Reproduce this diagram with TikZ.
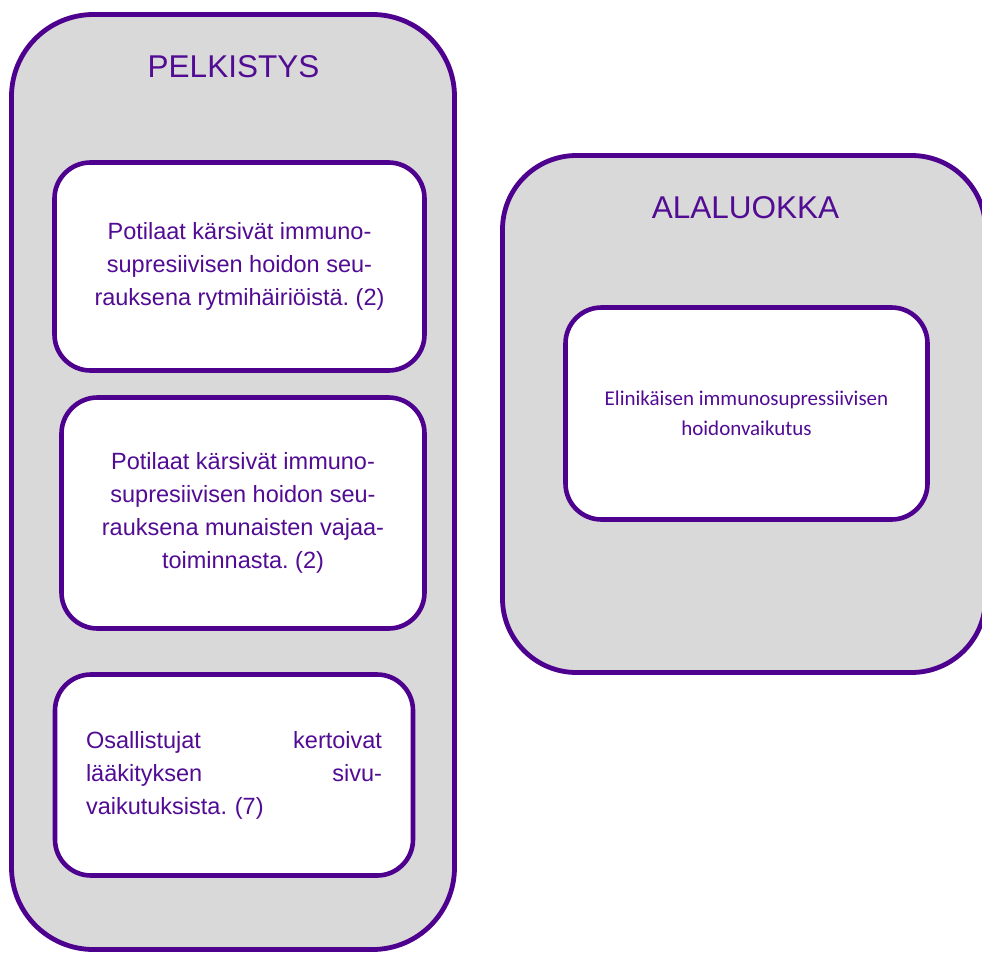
\documentclass[tikz,border=0pt]{standalone}
\usepackage{fontspec}
\setmainfont{Liberation Sans}
\newfontfamily\calibrifont{Carlito}
\definecolor{luokka}{RGB}{78,0,142}
\definecolor{luokkatext}{RGB}{82,12,148}
\definecolor{pohja}{RGB}{217,217,217}
\frenchspacing

\begin{document}
\begin{tikzpicture}[x=1pt,y=-1pt,
    outerbox/.style={draw=luokka,line width=4.8pt,fill=pohja,rectangle,inner sep=0pt},
    innerbox/.style={draw=luokka,line width=4.6pt,fill=white,rectangle,rounded corners=36pt,
      inner sep=0pt,text=luokkatext,align=center,font=\fontsize{23.5}{33}\selectfont},
    title/.style={text=luokkatext,anchor=base,inner sep=0pt,font=\fontsize{31.5}{36}\selectfont}]
    \useasboundingbox (0,0) rectangle (982,953);
    \clip (0,0) rectangle (982,953);
    % containers
    \node[outerbox,rounded corners=82pt,minimum width=443pt,minimum height=935pt] (pelk) at (233,482) {};
    \node[outerbox,rounded corners=74pt,minimum width=483pt,minimum height=517pt] (ala) at (744,414) {};
    \node[title] (pelkt) at (233.5,77) {PELKISTYS};
    \node[title] (alat) at (745.5,218) {ALALUOKKA};
    % pelkistykset
    \node[innerbox,minimum width=370pt,minimum height=208pt] (p1) at (239.5,266.5)
      {Potilaat kärsivät immuno-\\supresiivisen hoidon seu-\\rauksena rytmihäiriöistä. (2)};
    \node[innerbox,minimum width=363pt,minimum height=231pt] (p2) at (243,513)
      {Potilaat kärsivät immuno-\\supresiivisen hoidon seu-\\rauksena munaisten vajaa-\\toiminnasta. (2)};
    \node[innerbox,minimum width=358pt,minimum height=201pt,text width=296pt,align=left] (p3) at (234,775)
      {Osallistujat\hfill kertoivat\\lääkityksen\hfill sivu-\\vaikutuksista. (7)};
    % alaluokka
    \node[innerbox,minimum width=362pt,minimum height=212pt,font=\calibrifont\fontsize{21}{30}\selectfont] (a1) at (746.5,413.5)
      {Elinikäisen immunosupressiivisen\\hoidonvaikutus};
\end{tikzpicture}
\end{document}
